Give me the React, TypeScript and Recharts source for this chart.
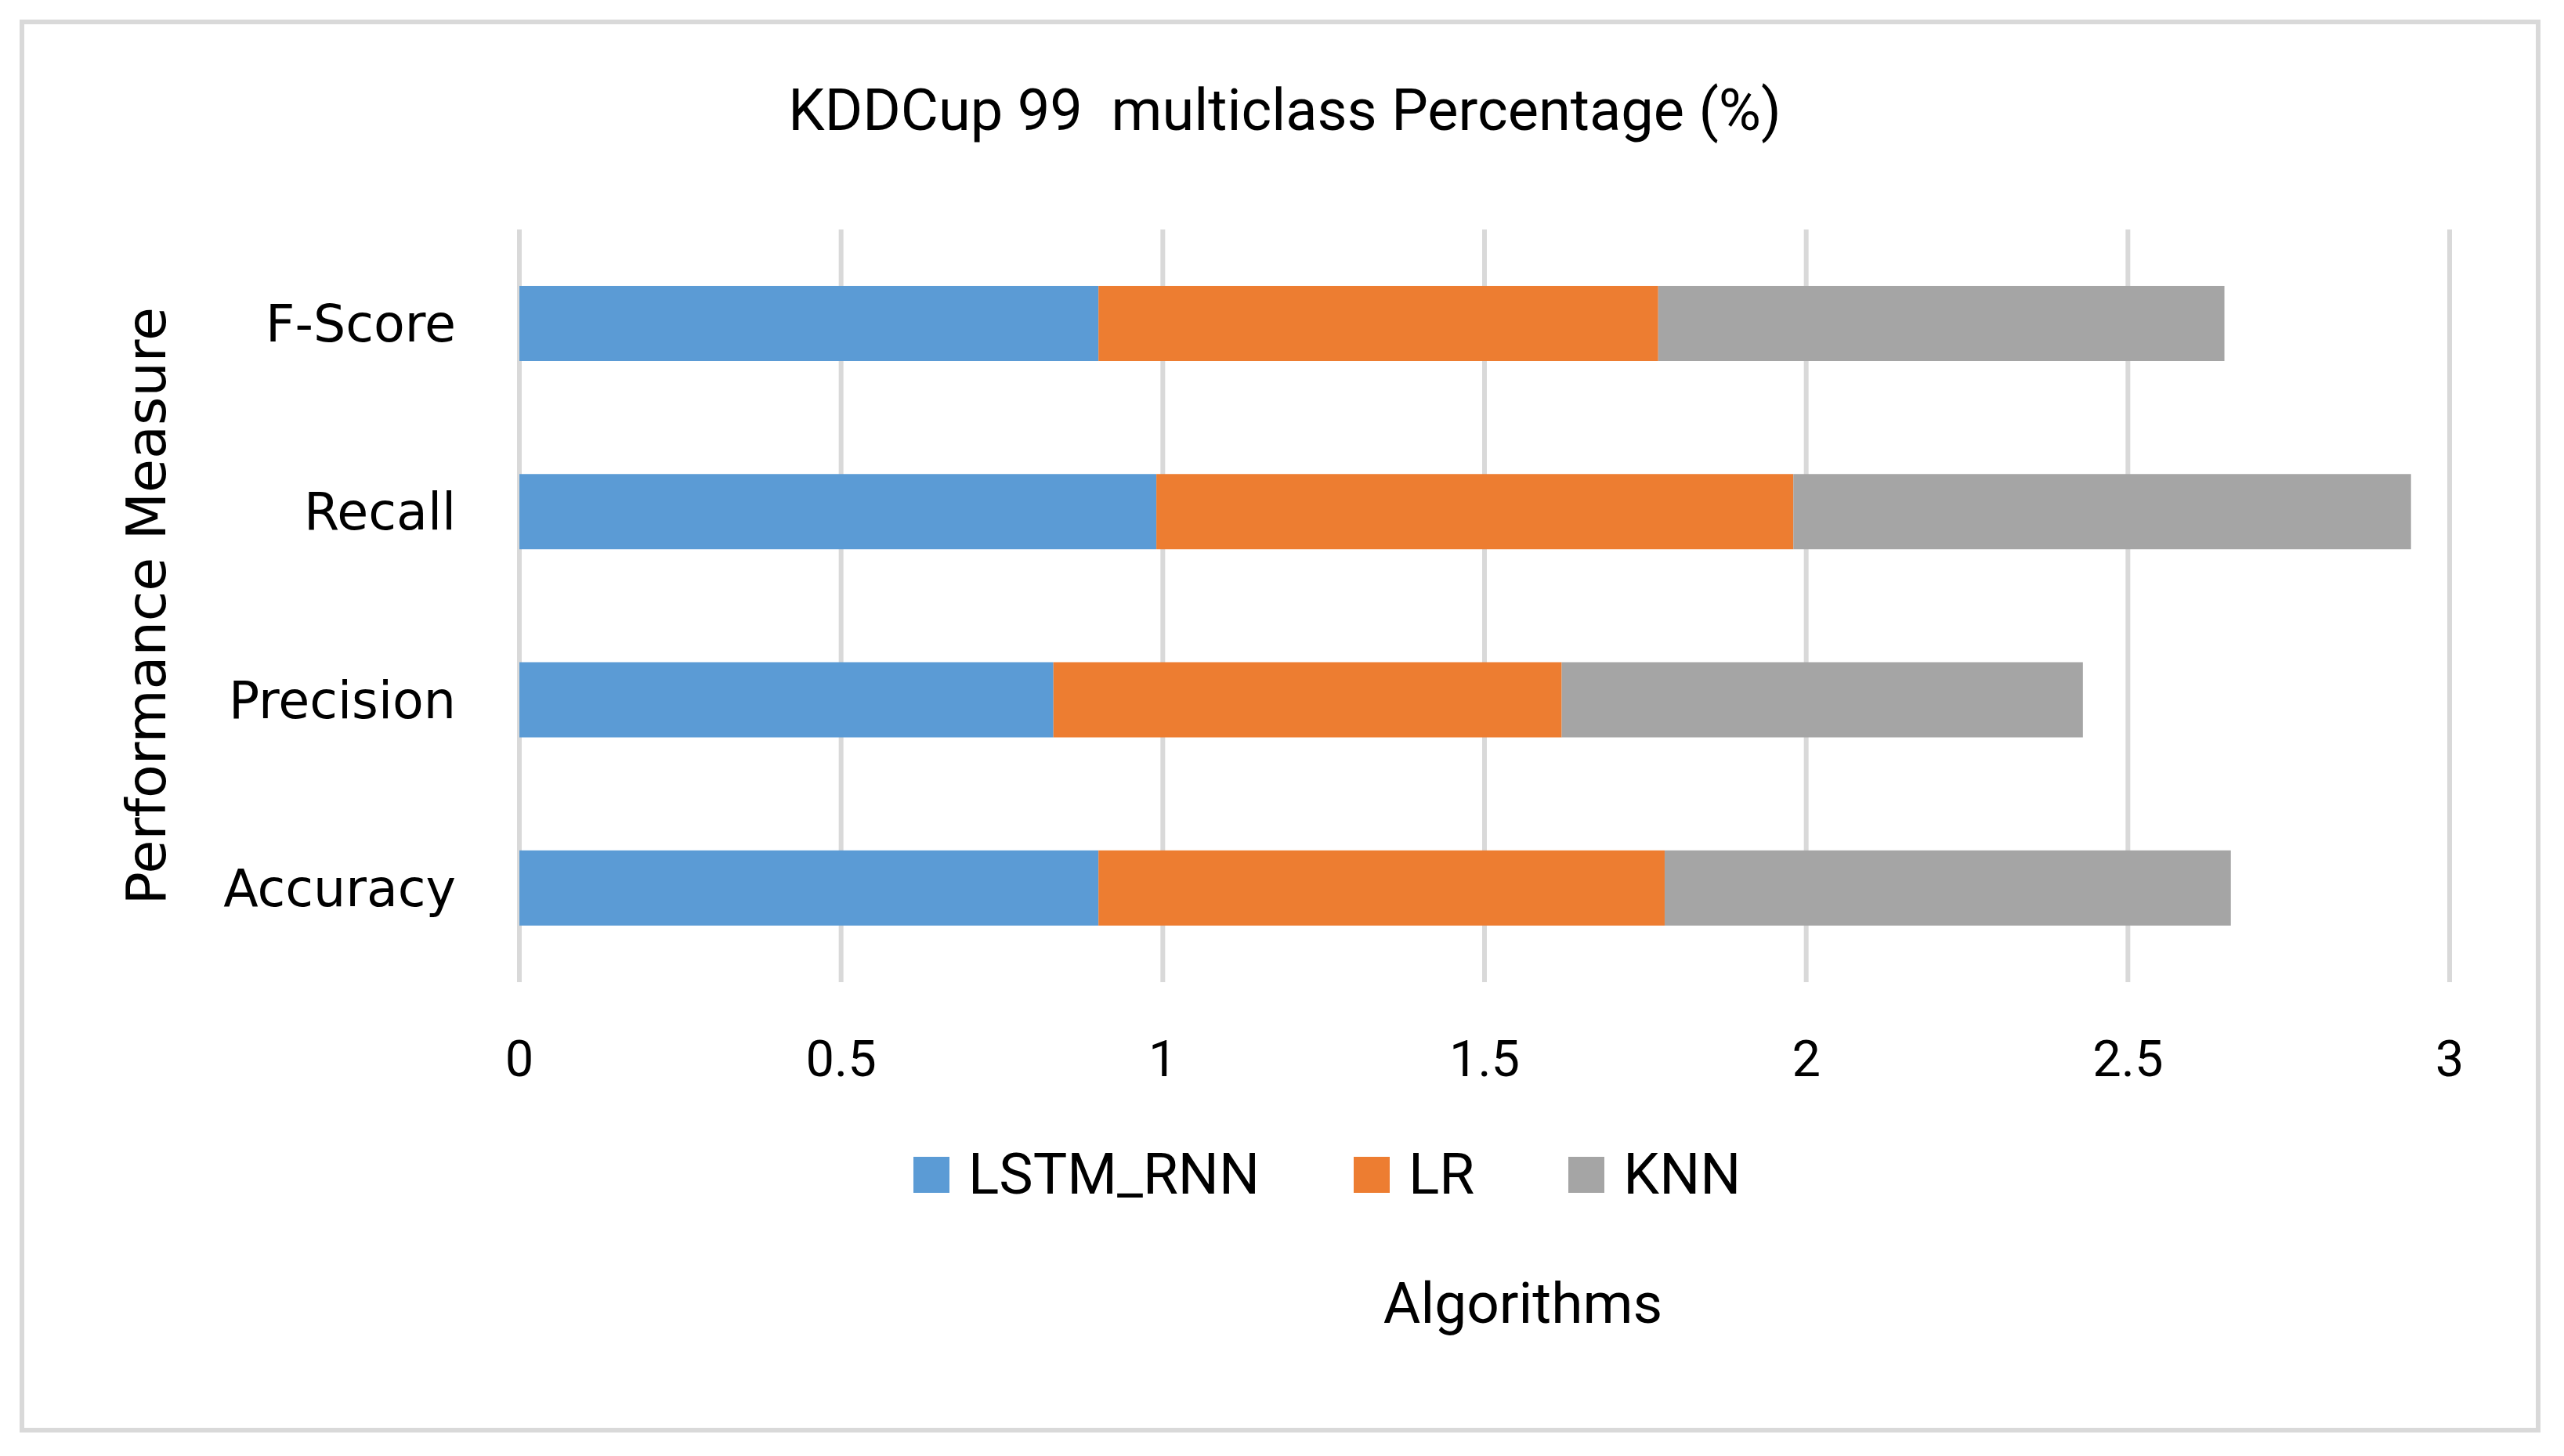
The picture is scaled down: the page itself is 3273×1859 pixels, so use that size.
import { BarChart, Bar, XAxis, YAxis, CartesianGrid, Legend } from 'recharts';

// values (Excel order: bottom category first)
const METRICS = ['Accuracy', 'Precision', 'Recall', 'F-Score'];
const LSTM_RNN = [0.9, 0.83, 0.99, 0.9];
const LR = [0.88, 0.79, 0.99, 0.87];
const KNN = [0.88, 0.81, 0.96, 0.88];
const X_TICKS = [0, 0.5, 1, 1.5, 2, 2.5, 3];

const SERIES = [
  { key: 'LSTM_RNN', color: '#5B9BD5' },
  { key: 'LR', color: '#ED7D31' },
  { key: 'KNN', color: '#A5A5A5' },
];

const W = 3273;
const H = 1859;
const GRID = '#D9D9D9';
const NARROW = 'Roboto, "Liberation Sans", sans-serif';
const WIDE = '"DejaVu Sans", Verdana, sans-serif';

const chartData = METRICS.map((metric, i) => ({
  metric,
  LSTM_RNN: LSTM_RNN[i],
  LR: LR[i],
  KNN: KNN[i],
}));

function LegendBox({ payload }: any) {
  // keep the series order (recharts hands stacked bars back reversed)
  const items = SERIES.map((s) => (payload || []).find((p: any) => p.value === s.key)).filter(Boolean);
  return (
    <div style={{ display: 'flex', alignItems: 'center', height: 73 }}>
      {items.map((p: any) => (
        <div key={p.value} style={{ display: 'flex', alignItems: 'center', marginRight: 120 }}>
          <span style={{ display: 'inline-block', width: 46, height: 46, background: p.color }} />
          <span style={{ marginLeft: 24, fontFamily: NARROW, fontSize: 73, lineHeight: 1, color: '#000' }}>
            {p.value}
          </span>
        </div>
      ))}
    </div>
  );
}

function YTitle({ viewBox }: any) {
  const cx = 211;
  const cy = viewBox.y + viewBox.height / 2;
  return (
    <text
      x={cx}
      y={cy}
      transform={`rotate(-90, ${cx}, ${cy})`}
      textAnchor="middle"
      fontFamily={WIDE}
      fontSize={70}
      fill="#000"
    >
      Performance Measure
    </text>
  );
}

function XTitle({ viewBox }: any) {
  return (
    <text
      x={viewBox.x + viewBox.width / 2 + 49}
      y={viewBox.y + 435}
      textAnchor="middle"
      fontFamily={NARROW}
      fontSize={73}
      fill="#000"
    >
      Algorithms
    </text>
  );
}

export default function App() {
  return (
    <div style={{ position: 'absolute', left: 0, top: 0, width: W, height: H, background: '#fff' }}>
      <div
        style={{
          position: 'absolute',
          left: 25,
          top: 25,
          width: 3218,
          height: 1804,
          border: `6px solid ${GRID}`,
          boxSizing: 'border-box',
        }}
      />
      <div
        style={{
          position: 'absolute',
          left: 0,
          top: 104,
          width: W + 7,
          textAlign: 'center',
          fontFamily: NARROW,
          fontSize: 74,
          lineHeight: 1,
          color: '#000',
          whiteSpace: 'pre',
        }}
      >
        {'KDDCup 99  multiclass Percentage (%)'}
      </div>
      <BarChart
        width={W}
        height={H}
        data={chartData}
        layout="vertical"
        margin={{ top: 293, right: 146, bottom: 405, left: 163 }}
      >
        <CartesianGrid horizontal={false} stroke={GRID} strokeWidth={6} />
        <XAxis
          type="number"
          domain={[0, 3]}
          ticks={X_TICKS}
          height={200}
          axisLine={false}
          tickLine={false}
          tickSize={0}
          tickMargin={74}
          tick={{ fontFamily: NARROW, fontSize: 65, fill: '#000' }}
          label={{ content: XTitle }}
        />
        <YAxis
          type="category"
          dataKey="metric"
          reversed
          width={500}
          axisLine={false}
          tickLine={false}
          tickSize={0}
          tickMargin={81}
          tick={{ fontFamily: WIDE, fontSize: 65, fill: '#000' }}
          label={{ content: YTitle }}
        />
        <Legend
          layout="horizontal"
          verticalAlign="middle"
          align="center"
          content={LegendBox}
          wrapperStyle={{ left: 1166, top: 1463, width: 'auto', height: 'auto' }}
        />
        {SERIES.map((s) => (
          <Bar
            key={s.key}
            dataKey={s.key}
            name={s.key}
            stackId="a"
            fill={s.color}
            barSize={96}
            isAnimationActive={false}
          />
        ))}
      </BarChart>
    </div>
  );
}
